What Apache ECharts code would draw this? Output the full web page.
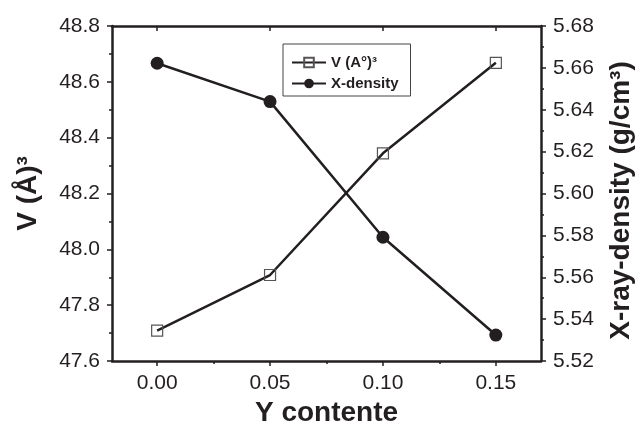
<!DOCTYPE html>
<html>
<head>
<meta charset="utf-8">
<script src="https://cdn.jsdelivr.net/npm/echarts@6/dist/echarts.min.js"></script>
<style>
  html, body { margin: 0; padding: 0; background: #fff; }
  #chart { width: 638px; height: 425px; }
</style>
</head>
<body>
<div id="chart"></div>
<script>
// values
const yContent = [0.00, 0.05, 0.10, 0.15];
const volume = [47.709, 47.908, 48.344, 48.668];
const xDensity = [5.6622, 5.6439, 5.5791, 5.5324];
const xMajorTicks = [0.00, 0.05, 0.10, 0.15];
const xMinorTicks = [0.025, 0.075, 0.125];

const ink = '#231f20';
const font = 'Arial, "Liberation Sans", sans-serif';

let myChart = echarts.init(document.getElementById('chart'));

// common bits for the x axes (bottom, minor ticks, top frame)
function xBase(extra) {
  return Object.assign({
    type: 'value',
    min: -0.02,
    max: 0.17,
    splitLine: { show: false },
    axisLine: { show: false },
    axisLabel: { show: false },
    axisTick: { show: false }
  }, extra);
}

myChart.setOption({
  animation: false,
  backgroundColor: '#fff',
  grid: { left: 112, right: 97, top: 26, bottom: 64, containLabel: false, outerBoundsMode: 'none' },
  legend: {
    left: 283,
    top: 44,
    orient: 'vertical',
    padding: [11, 12, 5, 8],
    itemGap: 6,
    itemWidth: 34,
    itemHeight: 12,
    borderColor: '#444',
    borderWidth: 1,
    textStyle: { fontFamily: font, fontWeight: 'bold', fontSize: 15, color: ink },
    data: ['V (A°)³', 'X-density']
  },
  xAxis: [
    xBase({
      position: 'bottom',
      name: 'Y contente',
      nameLocation: 'middle',
      nameGap: 38,
      nameTextStyle: { fontFamily: font, fontWeight: 'bold', fontSize: 28, color: ink },
      axisLine: { show: true, onZero: false, lineStyle: { color: ink, width: 2.5 } },
      axisTick: { show: true, length: 5, customValues: xMajorTicks, lineStyle: { color: ink, width: 1.5 } },
      axisLabel: {
        show: true, margin: 12, customValues: xMajorTicks,
        fontFamily: font, fontSize: 21, color: ink,
        formatter: v => v.toFixed(2)
      }
    }),
    xBase({
      position: 'bottom',
      axisTick: { show: true, length: 3, customValues: xMinorTicks, lineStyle: { color: ink, width: 1.5 } }
    }),
    xBase({
      position: 'top',
      axisLine: { show: true, onZero: false, lineStyle: { color: ink, width: 2.5 } },
      axisTick: { show: true, inside: true, length: 5, customValues: xMajorTicks, lineStyle: { color: ink, width: 1.5 } }
    })
  ],
  yAxis: [
    {
      type: 'value',
      position: 'left',
      min: 47.6,
      max: 48.8,
      interval: 0.2,
      name: 'V (Å)³',
      nameLocation: 'middle',
      nameRotate: 90,
      nameGap: 70,
      nameTextStyle: { fontFamily: font, fontWeight: 'bold', fontSize: 28, color: ink },
      splitLine: { show: false },
      axisLine: { show: true, onZero: false, lineStyle: { color: ink, width: 2.5 } },
      axisTick: { show: true, length: 5, lineStyle: { color: ink, width: 1.5 } },
      minorTick: { show: true, splitNumber: 2, length: 3, lineStyle: { color: ink, width: 1.5 } },
      axisLabel: {
        margin: 12, fontFamily: font, fontSize: 21, color: ink,
        formatter: v => v.toFixed(1)
      }
    },
    {
      type: 'value',
      position: 'right',
      min: 5.52,
      max: 5.68,
      interval: 0.02,
      name: 'X-ray-density (g/cm³)',
      nameLocation: 'middle',
      nameRotate: 90,
      nameGap: 66,
      nameTextStyle: { fontFamily: font, fontWeight: 'bold', fontSize: 28, color: ink, padding: [0, 14, 0, 0] },
      splitLine: { show: false },
      axisLine: { show: true, onZero: false, lineStyle: { color: ink, width: 2.5 } },
      axisTick: { show: true, length: 5, lineStyle: { color: ink, width: 1.5 } },
      minorTick: { show: true, splitNumber: 2, length: 3, lineStyle: { color: ink, width: 1.5 } },
      axisLabel: {
        margin: 12, fontFamily: font, fontSize: 21, color: ink,
        formatter: v => v.toFixed(2)
      }
    }
  ],
  series: [
    {
      name: 'V (A°)³',
      type: 'line',
      xAxisIndex: 0,
      yAxisIndex: 0,
      data: yContent.map((x, i) => [x, volume[i]]),
      symbol: 'rect',
      symbolSize: 11,
      lineStyle: { color: ink, width: 2.5 },
      itemStyle: { color: 'rgba(255,255,255,0)', borderColor: '#555', borderWidth: 1.2 },
      z: 3
    },
    {
      name: 'X-density',
      type: 'line',
      xAxisIndex: 0,
      yAxisIndex: 1,
      data: yContent.map((x, i) => [x, xDensity[i]]),
      symbol: 'circle',
      symbolSize: 13,
      lineStyle: { color: ink, width: 2.5 },
      itemStyle: { color: ink },
      z: 3
    }
  ]
});
</script>
</body>
</html>
